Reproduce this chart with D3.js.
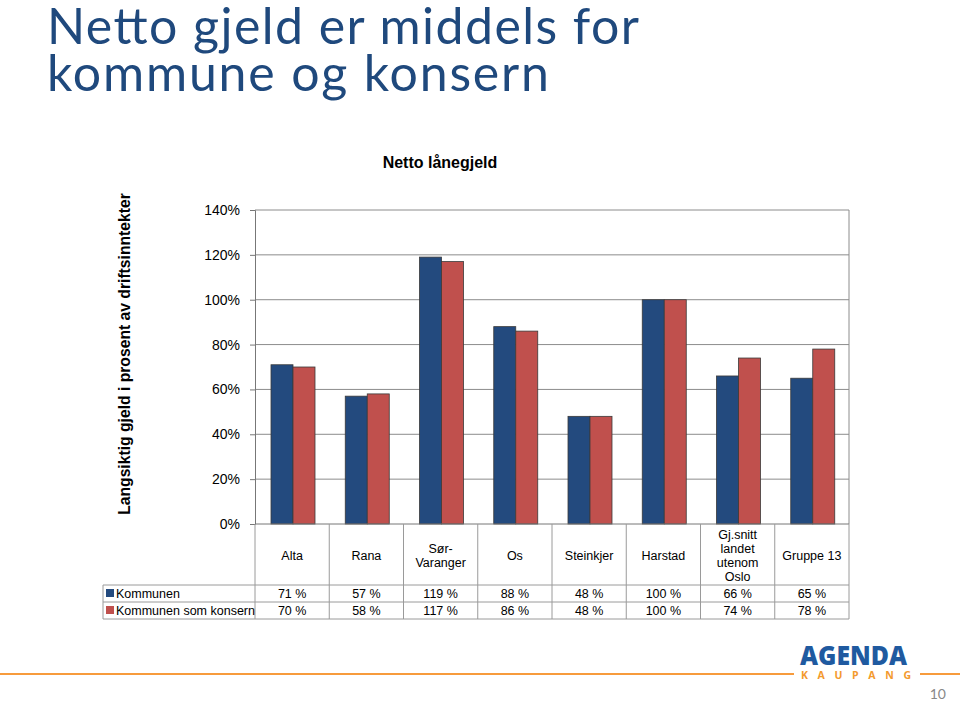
<!DOCTYPE html>
<html><head><meta charset="utf-8">
<script src="https://cdn.jsdelivr.net/npm/d3@7"></script>
<style>body{margin:0;background:#fff}svg{display:block}</style>
</head><body><svg id="c" width="960" height="702"></svg>
<script>
const categories = [["Alta"],["Rana"],["Sør-","Varanger"],["Os"],["Steinkjer"],["Harstad"],["Gj.snitt","landet","utenom","Oslo"],["Gruppe 13"]];
const kommunen = [71,57,119,88,48,100,66,65];
const konsern = [70,58,117,86,48,100,74,78];
const seriesNames = ["Kommunen","Kommunen som konsern"];
const yTicks = [0,20,40,60,80,100,120,140];
const colors = ["#234A7E","#C0504D"];

const svg = d3.select("#c");
// slide title
svg.append("text").attr("x",47).attr("y",44).attr("font-family","Lato, 'Open Sans', sans-serif")
  .attr("font-size",50).attr("fill","#1F497D").attr("textLength",592).attr("lengthAdjust","spacing").text("Netto gjeld er middels for");
svg.append("text").attr("x",47).attr("y",91).attr("font-family","Lato, 'Open Sans', sans-serif")
  .attr("font-size",50).attr("fill","#1F497D").attr("textLength",502).attr("lengthAdjust","spacing").text("kommune og konsern");

const L=255,R=849,T=210,B=524;
const x = d3.scaleBand().domain(d3.range(categories.length)).range([L,R]);
const y = d3.scaleLinear().domain([0,140]).range([B,T]);
const af="Liberation Sans, Arial, sans-serif";

svg.append("text").attr("x",440).attr("y",168).attr("text-anchor","middle").attr("font-family",af)
  .attr("font-weight","bold").attr("font-size",16).text("Netto lånegjeld");
svg.append("text").attr("transform","translate(130,354) rotate(-90)").attr("text-anchor","middle")
  .attr("font-family",af).attr("font-weight","bold").attr("font-size",15.7).text("Langsiktig gjeld i prosent av driftsinntekter");

// gridlines
svg.append("g").selectAll("line").data(yTicks.slice(1)).join("line")
  .attr("x1",L).attr("x2",R).attr("y1",d=>y(d)).attr("y2",d=>y(d)).attr("stroke","#8c8c8c").attr("stroke-width",1);
svg.append("line").attr("x1",R).attr("x2",R).attr("y1",T).attr("y2",B).attr("stroke","#8c8c8c");

const yAxis = d3.axisLeft(y).tickValues(yTicks).tickFormat(d=>d+"%").tickSize(5).tickPadding(10);
const ga = svg.append("g").attr("transform",`translate(${L},0)`).call(yAxis);
ga.select(".domain").attr("stroke","#777");
ga.selectAll(".tick line").attr("stroke","#777");
ga.selectAll("text").attr("font-family",af).attr("font-size",14).attr("fill","#000");

// bars
const bw=22;
[kommunen,konsern].forEach((vals,s)=>{
  svg.append("g").selectAll("rect").data(vals).join("rect")
    .attr("x",(d,i)=>x(i)+16+s*bw).attr("width",bw)
    .attr("y",d=>y(d)).attr("height",d=>B-y(d))
    .attr("fill",colors[s]).attr("stroke","#3a3a3a").attr("stroke-width",0.8);
});

// table
const rowCat=585, row1=602, row2=619, TL=103;
const g=svg.append("g").attr("stroke","#9a9a9a").attr("stroke-width",1);
g.append("line").attr("x1",L).attr("x2",R).attr("y1",B).attr("y2",B).attr("stroke","#777");
[rowCat,row1,row2].forEach(yy=>g.append("line").attr("x1",TL).attr("x2",R).attr("y1",yy).attr("y2",yy));
d3.range(categories.length+1).forEach(i=>{
  const xx = i<categories.length? x(i): R;
  g.append("line").attr("x1",xx).attr("x2",xx).attr("y1",B).attr("y2",row2);
});
g.append("line").attr("x1",TL).attr("x2",TL).attr("y1",rowCat).attr("y2",row2);

categories.forEach((c,i)=>{
  const cx=x(i)+x.bandwidth()/2, cy=(B+rowCat)/2+1, lh=14;
  const t=svg.append("text").attr("text-anchor","middle").attr("font-family",af).attr("font-size",12.5);
  c.forEach((ln,k)=>t.append("tspan").attr("x",cx).attr("y",cy+(k-(c.length-1)/2)*lh+4.5).text(ln));
});
[kommunen,konsern].forEach((vals,s)=>{
  const ry = s===0? (rowCat+row1)/2 : (row1+row2)/2;
  svg.append("rect").attr("x",TL+3).attr("y",ry-4.5).attr("width",8).attr("height",8).attr("fill",colors[s]);
  svg.append("text").attr("x",TL+13).attr("y",ry+4.5).attr("font-family",af).attr("font-size",12.5).text(seriesNames[s]);
  svg.append("g").selectAll("text").data(vals).join("text")
    .attr("x",(d,i)=>x(i)+x.bandwidth()/2).attr("y",ry+4.5).attr("text-anchor","middle")
    .attr("font-family",af).attr("font-size",12.5).text(d=>d+" %");
});

// footer
svg.append("line").attr("x1",0).attr("x2",794).attr("y1",674).attr("y2",674).attr("stroke","#F79B3C").attr("stroke-width",2);
svg.append("line").attr("x1",920).attr("x2",960).attr("y1",674).attr("y2",674).attr("stroke","#F79B3C").attr("stroke-width",2);
svg.append("text").attr("x",800).attr("y",665).attr("font-family","'Open Sans', sans-serif")
  .attr("font-weight","800").attr("font-size",27).attr("fill","#1F5AA0").attr("textLength",107).attr("lengthAdjust","spacingAndGlyphs").text("AGENDA");
svg.append("text").attr("x",801).attr("y",678.5).attr("font-family","'Open Sans', sans-serif")
  .attr("font-weight","bold").attr("font-size",10.5).attr("fill","#F39A2E")
  .attr("textLength",110).attr("lengthAdjust","spacing").text("KAUPANG");
svg.append("text").attr("x",946).attr("y",699).attr("text-anchor","end").attr("font-family","Lato, sans-serif")
  .attr("font-size",14).attr("fill","#888").text("10");
</script></body></html>
